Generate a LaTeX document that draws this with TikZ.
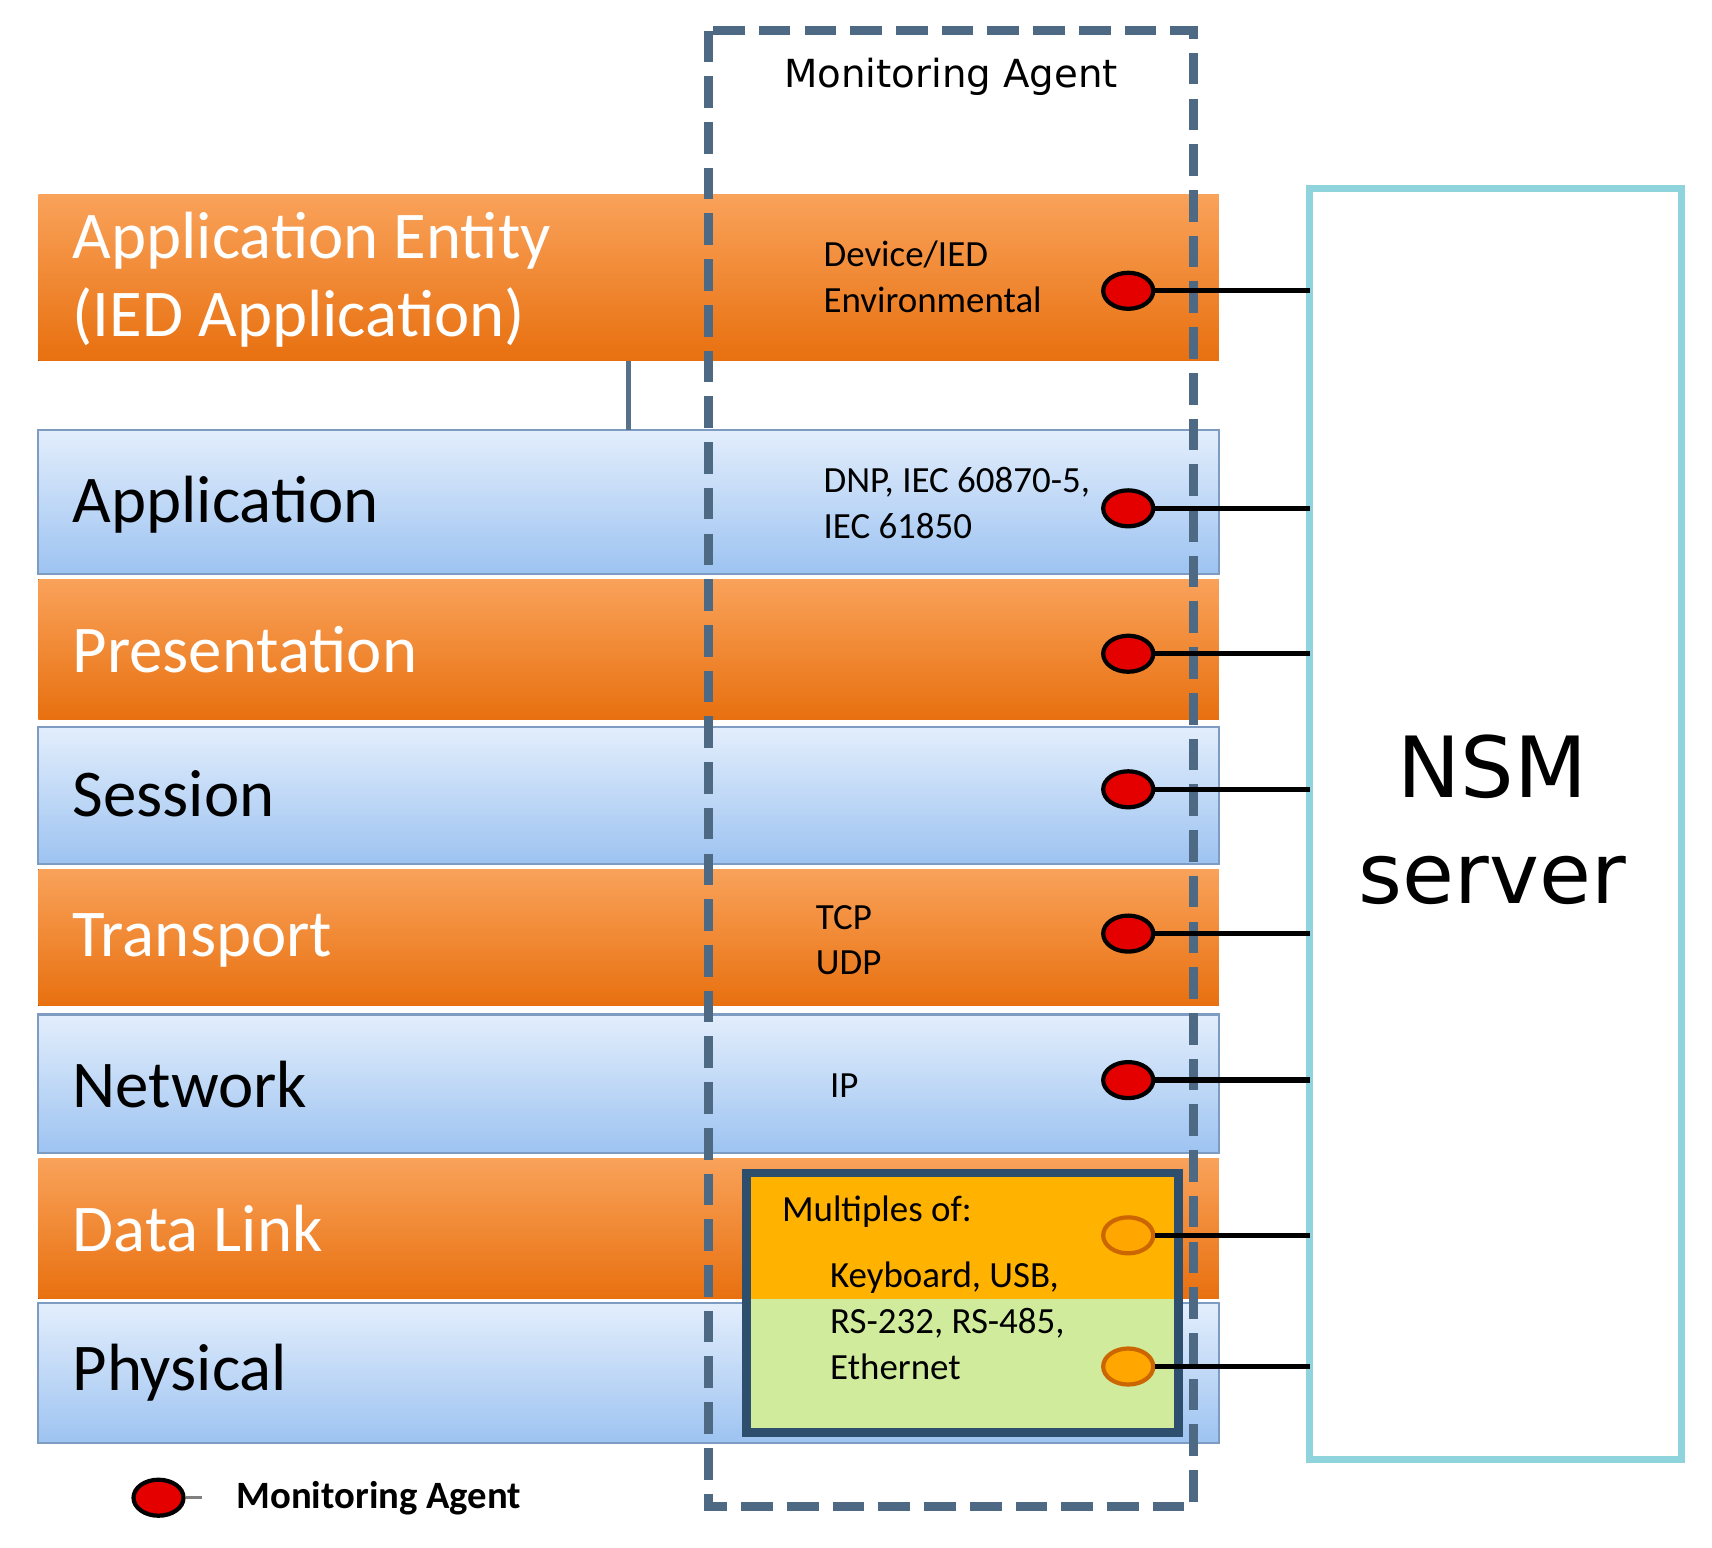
\documentclass[tikz,border=0pt]{standalone}
\usepackage{fontspec}
\setmainfont{Carlito}
\newfontfamily\dejavu{DejaVu Sans}
\usetikzlibrary{shapes.geometric, positioning}

\definecolor{orgtop}{HTML}{F9A25A}
\definecolor{orgbot}{HTML}{E8700F}
\definecolor{blutop}{HTML}{E3EEFC}
\definecolor{blubot}{HTML}{9DC3F1}
\definecolor{dashblue}{HTML}{2E4E6E}
\definecolor{nsmcyan}{HTML}{8FD3DC}

\tikzset{
  orglayer/.style={draw=none, top color=orgtop, bottom color=orgbot},
  blulayer/.style={draw=blubot!80!black, line width=0.6pt, top color=blutop, bottom color=blubot},
  lname/.style={anchor=west, font=\fontsize{19}{22}\selectfont},
  small/.style={anchor=west, align=left, font=\fontsize{10.5}{13}\selectfont},
  agent/.style={ellipse, draw=black, line width=1.2pt, fill=red!90!black, minimum width=0.5cm, minimum height=0.36cm, inner sep=0pt},
  agentb/.style={agent, draw=orange!80!black, fill=orange!70!yellow},
  link/.style={line width=1.5pt}
}

\begin{document}
\begin{tikzpicture}[x=0.010932cm, y=-0.010932cm]
\useasboundingbox (0,0) rectangle (1566,1416);

% --- Layers ---
\fill[orglayer] (35,178) rectangle (1115,330);
\draw[blulayer] (35,393) rectangle (1115,525);
\fill[orglayer] (35,530) rectangle (1115,658);
\draw[blulayer] (35,665) rectangle (1115,790);
\fill[orglayer] (35,795) rectangle (1115,920);
\draw[blulayer] (35,928) rectangle (1115,1055);
\fill[orglayer] (35,1060) rectangle (1115,1188);
\draw[blulayer] (35,1192) rectangle (1115,1320);
\draw[line width=1.5pt, dashblue!80] (575,330) -- (575,393);

% Layer names
\node[lname, white, align=left] (ent) at (55,256) {Application Entity\\(IED Application)};
\node[lname] (app) at (55,462) {Application};
\node[lname, white] (pres) at (55,594) {Presentation};
\node[lname] (sess) at (55,726) {Session};
\node[lname, white] (trans) at (55,860) {Transport};
\node[lname] (net) at (55,992) {Network};
\node[lname, white] (dl) at (55,1124) {Data Link};
\node[lname] (phy) at (55,1256) {Physical};

% --- Multiples box ---
\fill[orange!60!yellow] (683,1073) rectangle (1078,1188);
\fill[yellow!55!green!40] (683,1188) rectangle (1078,1310);
\draw[line width=2.5pt, dashblue] (683,1073) rectangle (1078,1310);

% --- Monitoring agent frame ---
\draw[dashed, line width=2.5pt, dashblue!85, dash pattern=on 9pt off 4pt] (648,28) rectangle (1092,1378);
\node[font=\dejavu\fontsize{11}{13}\selectfont] (ma) at (870,70) {Monitoring Agent};

% Protocol texts
\node[small] (t1) at (742,253) {Device/IED\\Environmental};
\node[small] (t2) at (742,460) {DNP, IEC 60870-5,\\IEC 61850};
\node[small] (t3) at (735,860) {TCP\\UDP};
\node[small] (t4) at (748,993) {IP};
\node[small] (t5) at (704,1108) {Multiples of:};
\node[small] (t6) at (748,1208) {Keyboard, USB,\\RS-232, RS-485,\\Ethernet};

% --- NSM server ---
\draw[line width=2pt, nsmcyan] (1198,172) rectangle (1538,1335);
\node[align=center, font=\dejavu\fontsize{24}{30}\selectfont] (nsm) at (1365,750) {NSM\\server};

% --- Agents and links ---
\foreach \n/\y in {a1/266, a2/465, a3/598, a4/722, a5/854, a6/988} {
  \node[agent] (\n) at (1032,\y) {};
  \coordinate (\n s) at (1198,\y);
  \draw[link] (\n) -- (\n s);
}
\foreach \n/\y in {b1/1130, b2/1250} {
  \node[agentb] (\n) at (1032,\y) {};
  \coordinate (\n s) at (1198,\y);
  \draw[link] (\n) -- (\n s);
}

% --- Legend ---
\node[agent] (leg) at (145,1370) {};
\coordinate (legend) at (185,1370);
\draw[line width=0.8pt, gray] (leg) -- (legend);
\node[anchor=west, font=\bfseries\fontsize{11}{13}\selectfont] (legt) at (205,1370) {Monitoring Agent};
\end{tikzpicture}
\end{document}
